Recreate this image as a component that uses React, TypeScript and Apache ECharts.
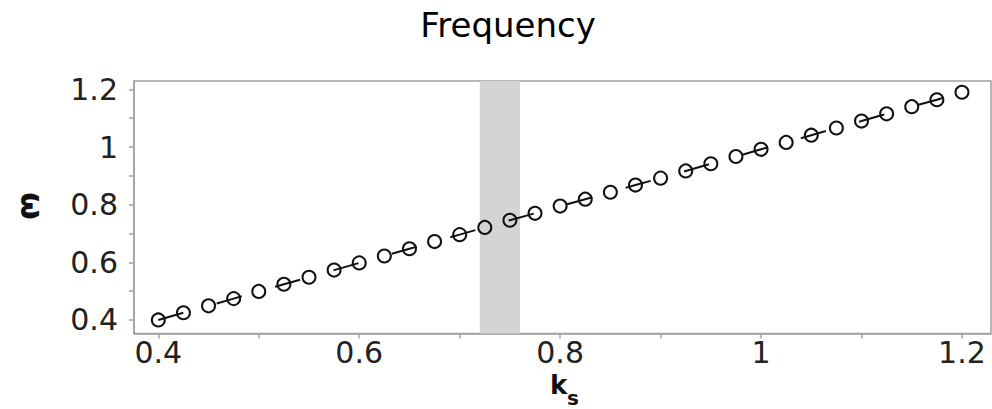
import React, { useEffect, useRef } from "react";
import * as echarts from "echarts";

// Stiffness parameter k_s and the resulting frequency ω
const kS = [
  0.4, 0.425, 0.45, 0.475, 0.5, 0.525, 0.55, 0.575, 0.6, 0.625, 0.65,
  0.675, 0.7, 0.725, 0.75, 0.775, 0.8, 0.825, 0.85, 0.875, 0.9, 0.925,
  0.95, 0.975, 1.0, 1.025, 1.05, 1.075, 1.1, 1.125, 1.15, 1.175, 1.2,
];
const omega = [
  0.4, 0.425, 0.449, 0.474, 0.499, 0.524, 0.548, 0.573, 0.598, 0.622, 0.647,
  0.672, 0.696, 0.721, 0.746, 0.77, 0.795, 0.819, 0.843, 0.868, 0.892, 0.917,
  0.942, 0.967, 0.992, 1.016, 1.041, 1.066, 1.09, 1.115, 1.14, 1.164, 1.19,
];

// Highlighted k_s interval
const bandRange = [0.72, 0.76];

// Axis ticks and labelled ticks
const xTicks = [0.4, 0.5, 0.6, 0.7, 0.8, 0.9, 1.0, 1.1, 1.2];
const xLabels = [0.4, 0.6, 0.8, 1.0, 1.2];
const yTicks = [0.4, 0.5, 0.6, 0.7, 0.8, 0.9, 1.0, 1.1, 1.2];
const yLabels = [0.4, 0.6, 0.8, 1.0, 1.2];

const FONT = "DejaVu Sans";
const AXIS_GRAY = "#a0a0a0";

export default function App() {
  const ref = useRef<HTMLDivElement>(null);

  useEffect(() => {
    if (!ref.current) return;
    const chart = echarts.init(ref.current, undefined, { renderer: "svg" });

    const axisCommon = {
      type: "value" as const,
      axisLine: { show: true, lineStyle: { color: AXIS_GRAY, width: 1.5 } },
      axisTick: {
        show: true,
        inside: false,
        length: 5,
        lineStyle: { color: AXIS_GRAY, width: 1.5 },
      },
      splitLine: { show: false },
    };

    chart.setOption({
      animation: false,
      backgroundColor: "#fff",
      title: {
        text: "Frequency",
        left: 503,
        top: 3,
        textAlign: "center",
        textStyle: {
          fontFamily: FONT,
          fontSize: 34,
          fontWeight: "normal",
          color: "#000",
        },
      },
      grid: {
        left: 134,
        top: 81,
        width: 857,
        height: 252.5,
        show: true,
        borderColor: AXIS_GRAY,
        borderWidth: 1.5,
        backgroundColor: "transparent",
      },
      xAxis: {
        ...axisCommon,
        min: 0.3758,
        max: 1.2289,
        axisTick: { ...axisCommon.axisTick, customValues: xTicks },
        axisLabel: {
          customValues: xLabels,
          margin: 4,
          fontFamily: FONT,
          fontSize: 30,
          color: "#222",
          formatter: (v: number) => String(+v.toFixed(2)),
        },
      },
      yAxis: {
        ...axisCommon,
        min: 0.353,
        max: 1.229,
        axisTick: { ...axisCommon.axisTick, customValues: yTicks },
        axisLabel: {
          customValues: yLabels,
          margin: 16,
          fontFamily: FONT,
          fontSize: 30,
          color: "#222",
          formatter: (v: number) => String(+v.toFixed(2)),
        },
      },
      graphic: [
        {
          type: "text",
          x: 32,
          y: 206,
          rotation: -Math.PI / 2,
          style: {
            text: "ω",
            fontFamily: FONT,
            fontSize: 32,
            fontWeight: "bold",
            fill: "#111",
            align: "center",
            verticalAlign: "middle",
          },
        },
        {
          type: "text",
          x: 550,
          y: 385,
          style: {
            text: "k",
            fontFamily: FONT,
            fontSize: 26,
            fontWeight: "bold",
            fill: "#111",
            align: "left",
            verticalAlign: "middle",
          },
        },
        {
          type: "text",
          x: 567,
          y: 398,
          style: {
            text: "s",
            fontFamily: FONT,
            fontSize: 20,
            fontWeight: "bold",
            fill: "#111",
            align: "left",
            verticalAlign: "middle",
          },
        },
      ],
      series: [
        {
          type: "line",
          data: kS.map((k, i) => [k, omega[i]]),
          symbol: "circle",
          symbolSize: 13,
          z: 3,
          itemStyle: {
            color: "rgba(0,0,0,0)",
            borderColor: "#111",
            borderWidth: 2,
          },
          lineStyle: { color: "#111", width: 2, type: [26, 34.7] },
          emphasis: { disabled: true },
          markArea: {
            silent: true,
            itemStyle: { color: "#d4d4d4" },
            data: [[{ xAxis: bandRange[0] }, { xAxis: bandRange[1] }]],
          },
        },
      ],
    });

    return () => chart.dispose();
  }, []);

  return (
    <div
      ref={ref}
      style={{ position: "fixed", left: 0, top: 0, width: 992, height: 409 }}
    />
  );
}
